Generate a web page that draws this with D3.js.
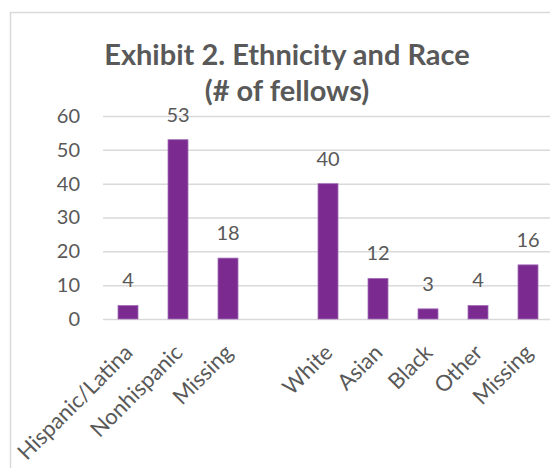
<!DOCTYPE html>
<html><head>
<meta charset="utf-8">
<script src="https://d3js.org/d3.v7.min.js"></script>
<style>
  body { margin: 0; background: #fff; }
  svg text { font-family: Lato, "Open Sans", sans-serif; fill: #595959; }
  .gridlines line { stroke: #d9d9d9; stroke-width: 1.5; }
  .gridlines .domain { stroke: none; }
</style>
</head>
<body>
<svg id="chart" width="550" height="468"></svg>
<script>

// categories (blank slot separates the two groups)
const categories = ["Hispanic/Latina", "Nonhispanic", "Missing", "", "White", "Asian", "Black", "Other", "Missing"];
const values = [4, 53, 18, null, 40, 12, 3, 4, 16];
const yTicks = [0, 10, 20, 30, 40, 50, 60];
const titleLines = ["Exhibit 2. Ethnicity and Race", "(# of fellows)"];

const svg = d3.select("svg#chart");
const margin = {top: 116, bottom: 319, left: 103, right: 553};

// chart frame
svg.append("rect")
  .attr("x", 10.5).attr("y", 12.5)
  .attr("width", 600).attr("height", 500)
  .attr("fill", "none")
  .attr("stroke", "#d9d9d9")
  .attr("stroke-width", 1.5);

const idx = categories.map((c, i) => i);

const xScale = d3.scaleBand()
  .domain(idx)
  .range([margin.left, margin.right])
  .paddingInner(0.6)
  .paddingOuter(0.3);

const yScale = d3.scaleLinear()
  .domain([0, 60])
  .range([margin.bottom, margin.top]);

// gridlines
let leftGridlines = d3.axisLeft(yScale)
  .tickValues(yTicks)
  .tickSize(-(550 - margin.left))
  .tickFormat("");
svg.append("g")
  .attr("class", "gridlines")
  .attr("transform", "translate(" + margin.left + ",0)")
  .call(leftGridlines);

// y tick labels
let leftAxis = d3.axisLeft(yScale)
  .tickValues(yTicks)
  .tickSize(0)
  .tickPadding(23);
let yAxis = svg.append("g")
  .attr("transform", "translate(" + margin.left + ",0)")
  .call(leftAxis);
yAxis.select(".domain").remove();
yAxis.selectAll("text")
  .style("font-size", "20px")
  .style("font-family", "Lato, sans-serif")
  .attr("fill", "#595959");

// bars
const bars = idx.filter(i => values[i] !== null);
svg.append("g").selectAll("rect")
  .data(bars)
  .join("rect")
  .attr("x", i => xScale(i))
  .attr("y", i => yScale(values[i]))
  .attr("width", xScale.bandwidth())
  .attr("height", i => yScale(0) - yScale(values[i]))
  .attr("fill", "#7b2a8f")
  .attr("stroke", "#a46fb8")
  .attr("stroke-width", 0.8);

// data labels
svg.append("g").selectAll("text")
  .data(bars)
  .join("text")
  .attr("x", i => xScale(i) + xScale.bandwidth() / 2)
  .attr("y", i => yScale(values[i]) - 18)
  .attr("text-anchor", "middle")
  .style("font-size", "20px")
  .text(i => values[i]);

// category labels, rotated
svg.append("g").selectAll("text")
  .data(idx)
  .join("text")
  .attr("transform", i => "translate(" + (xScale(i) + xScale.bandwidth() / 2) + ",348) rotate(-45)")
  .attr("text-anchor", "end")
  .attr("dominant-baseline", "central")
  .style("font-size", "22px")
  .text(i => categories[i]);

// title
svg.append("g").selectAll("text")
  .data(titleLines)
  .join("text")
  .attr("x", 287)
  .attr("y", (d, i) => 65 + i * 36)
  .attr("text-anchor", "middle")
  .style("font-size", "29px")
  .style("font-weight", "bold")
  .text(d => d);

</script>
</body>
</html>
